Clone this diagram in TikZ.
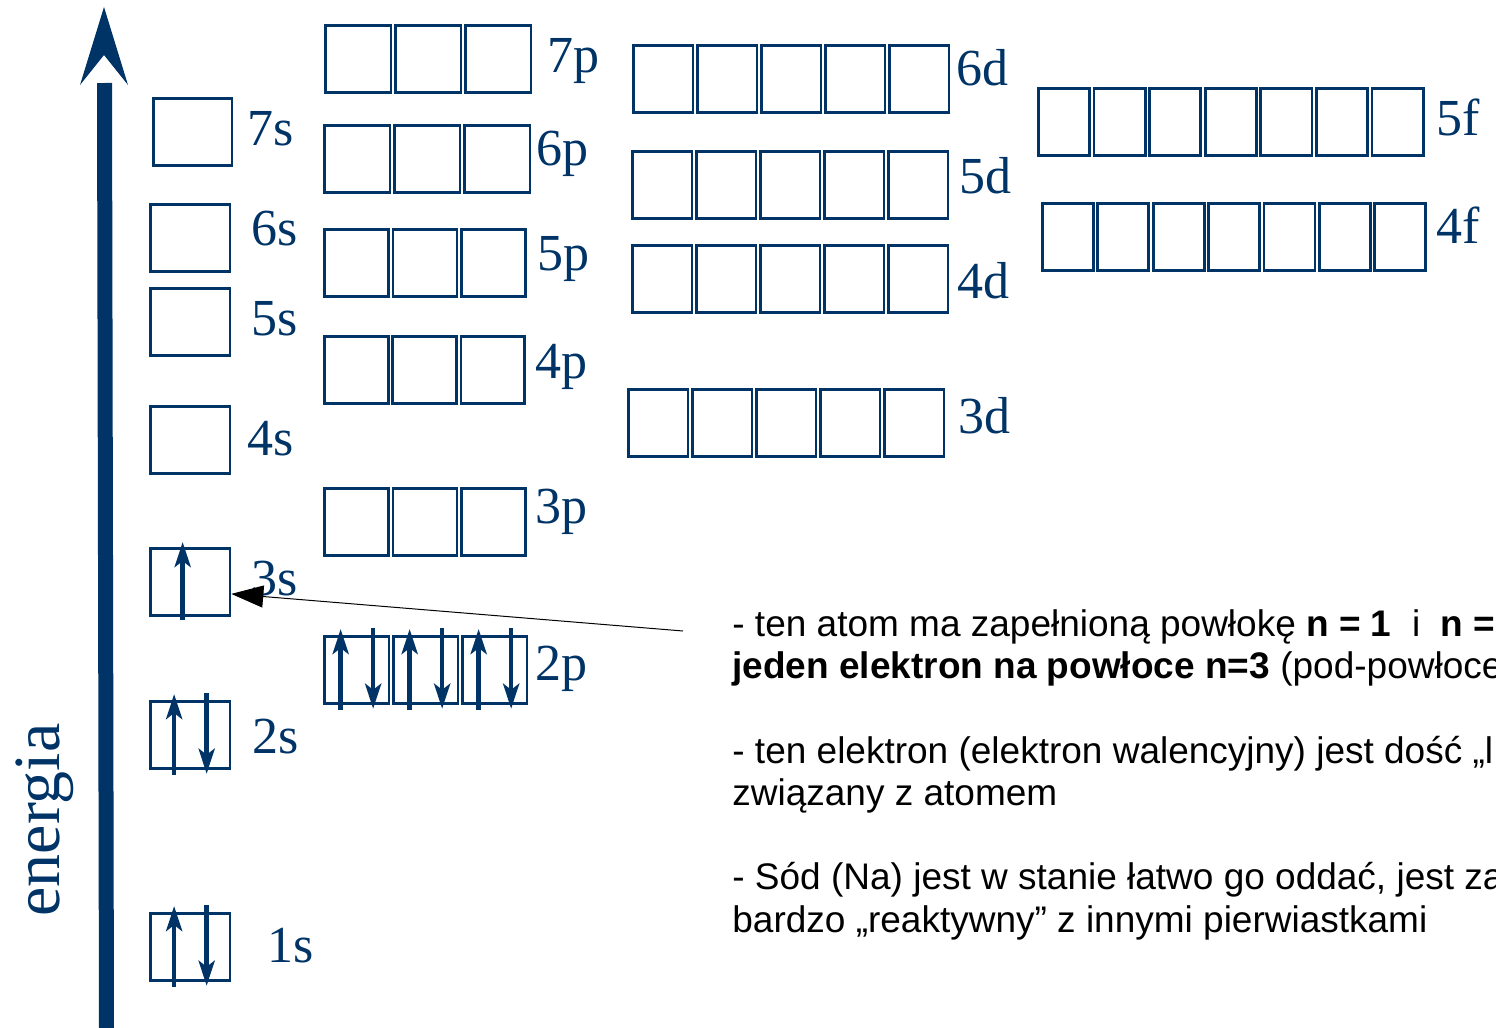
\documentclass[tikz,border=0pt]{standalone}
\usepackage{fontspec}
\setmainfont{Liberation Serif}
\setsansfont{Liberation Sans}
\usetikzlibrary{arrows.meta}
\definecolor{orbblue}{RGB}{0,51,102}

\begin{document}
\begin{tikzpicture}[x=0.5pt,y=-0.5pt]
\tikzstyle{orbital}=[draw=orbblue, line width=1.4pt, inner sep=0pt, anchor=north west, minimum height=33.5pt]
\tikzstyle{sublabel}=[text=orbblue, font=\fontsize{26}{30}\selectfont, inner sep=0pt, anchor=base west]
\tikzstyle{spin}=[draw=orbblue, line width=2.3pt, -{Stealth[length=12.5pt,width=8pt,inset=3pt]}]
\tikzstyle{pointer}=[draw=black, line width=0.5pt, -{Triangle[length=16pt,width=11pt]}]
\tikzstyle{note}=[anchor=base west, inner sep=0pt, font=\sffamily\fontsize{18.5}{21}\selectfont]

\useasboundingbox (0,0) rectangle (1496,1028);
\clip (0,0) rectangle (1496,1028);

% energy axis
\coordinate (axisbottom) at (106.5,1028);
\coordinate (axistop) at (104.5,83);
\draw[orbblue, line width=7.5pt] (axisbottom) -- (axistop);
\fill[orbblue] (104,7) -- (128,85) -- (104,55) -- (80,85) -- cycle;
\node[rotate=90, anchor=base, inner sep=0pt, text=orbblue, font=\fontsize{33}{40}\selectfont] (energia) at (59,820) {energia};

% boxes: name/left/top/count/pitch
\foreach \orb/\bx/\by/\cnt/\bw in {7s/152/97/1/83, 6s/149/203/1/84, 5s/149/287/1/84, 4s/149/405/1/84,
    3s/149/547/1/84, 2s/149/700/1/84, 1s/149/912/1/84,
    7p/324/24/3/70, 6p/323/124/3/70, 5p/323/228/3/68.5, 4p/323/335/3/68.3, 3p/323/487/3/68.5, 2p/323/635/3/69,
    6d/632/44/5/64, 5d/631/150/5/64, 4d/631/244/5/64, 3d/627/388/5/64,
    5f/1037/87/7/55.6, 4f/1041/202/7/55.4}
  \foreach \col in {1,...,\cnt}
    \node[orbital, minimum width={(\bw-4.5)*0.5pt}] (\orb-\col) at ({\bx+(\col-1)*\bw},\by) {};

% labels
\foreach \orb/\lx/\ly in {7s/247/145, 6s/251/245, 5s/251/335, 4s/247/455, 3s/251/595, 2s/252/753, 1s/267/962,
    7p/547/72, 6p/536/165, 5p/537/270, 4p/535/378, 3p/535/523, 2p/535/680,
    6d/956/85, 5d/959/193, 4d/957/298, 3d/958/433, 5f/1436/135, 4f/1436/243}
  \node[sublabel] (lab-\orb) at (\lx,\ly) {\orb};

% electrons
\draw[spin] ([xshift=-3.75pt,yshift=-1.5pt]3s-1.south) -- ([xshift=-3.75pt,yshift=2.5pt]3s-1.north);
\foreach \b in {2s-1,1s-1,2p-1,2p-2,2p-3}{
  \draw[spin] ([xshift=-8pt,yshift=-2.5pt]\b.south) -- ([xshift=-8pt,yshift=3pt]\b.north);
  \draw[spin] ([xshift=8.25pt,yshift=3.5pt]\b.north) -- ([xshift=8.25pt,yshift=-2pt]\b.south);
}

\coordinate (notetail) at (683,631);
\draw[pointer] (notetail) -- ([yshift=-6pt]3s-1.east);

\node[note] (line1) at (732,636) {- ten atom ma zapełnioną powłokę \textbf{n = 1}\ \ i\ \ \textbf{n =}};
\node[note] (line2) at (732,678) {\textbf{jeden elektron na powłoce n=3} (pod-powłoce};
\node[note] (line3) at (732,763) {- ten elektron (elektron walencyjny) jest dość „l};
\node[note] (line4) at (732,805) {związany z atomem};
\node[note] (line5) at (732,889) {- Sód (Na) jest w stanie łatwo go oddać, jest za};
\node[note] (line6) at (732,932) {bardzo „reaktywny” z innymi pierwiastkami};
\end{tikzpicture}
\end{document}
